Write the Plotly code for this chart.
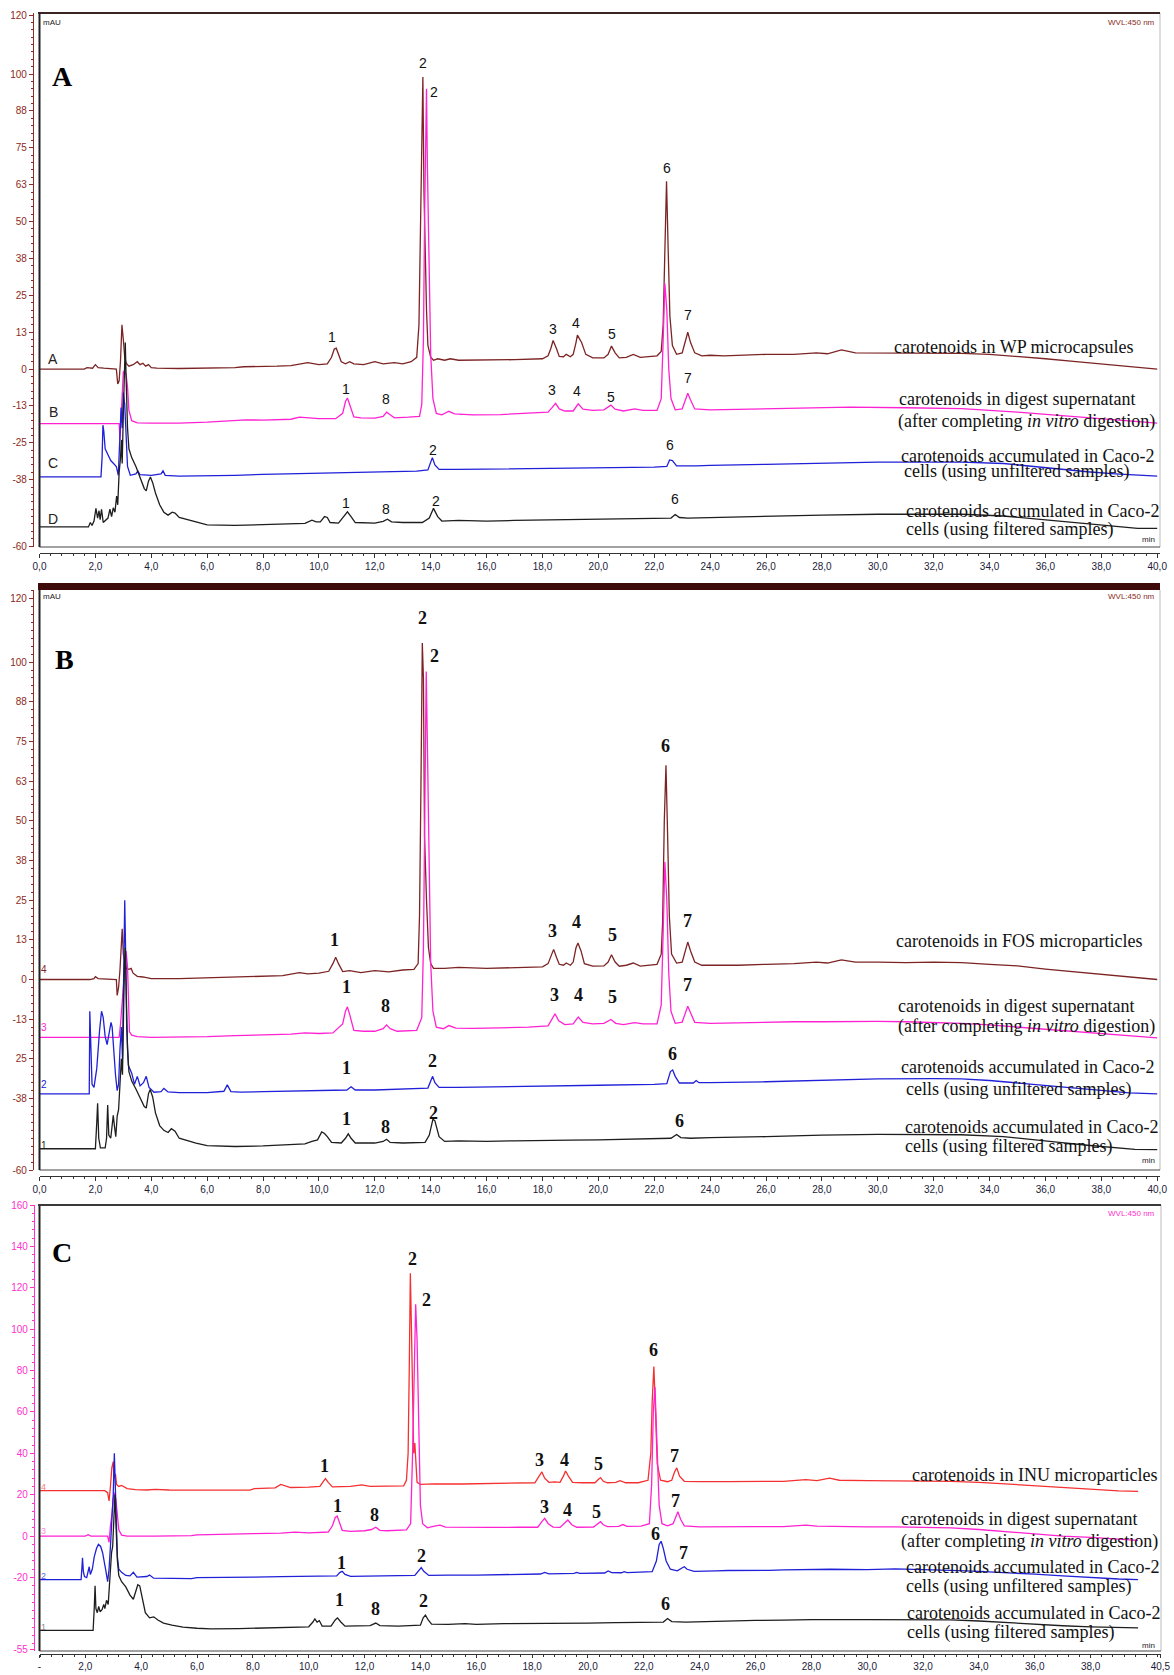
import plotly.graph_objects as go

W, H = 1174, 1675

# ---------------- data (retention time min, signal mAU) ----------------
# Panel A
A_wp = [(0,0),(1.6,0),(1.7,0.5),(1.9,0.3),(2.0,1.5),(2.1,0.5),(2.3,0.3),(2.6,0.2),(2.75,0),(2.8,-5),(2.85,-4),(2.9,3),(2.95,15),(3.0,10),(3.05,4),(3.1,2),(3.2,1),(3.35,1.5),(3.5,2.5),(3.6,1.5),(3.7,2),(3.8,1),(3.9,1.5),(4.0,0.5),(4.2,0.3),(5.0,0.2),(6.0,0.3),(7.0,0.5),(7.3,0.8),(8.0,0.8),(8.5,1.0),(9.0,1.2),(9.3,1.8),(9.6,2.2),(10.0,1.5),(10.3,1.8),(10.45,4),(10.55,6.8),(10.62,7.1),(10.7,5),(10.8,2.5),(10.95,1.8),(11.1,2.5),(11.25,1.8),(11.6,1.5),(12.0,2.5),(12.3,1.8),(12.7,2.2),(13.0,1.8),(13.3,2.5),(13.5,4),(13.58,15),(13.63,45),(13.68,85),(13.72,99),(13.76,60),(13.8,40),(13.85,20),(13.9,8),(14.0,4),(14.1,3),(14.25,3.5),(14.5,3.0),(14.7,3.5),(15,3),(16,3),(17,3.2),(18.0,3.5),(18.2,4.5),(18.3,7),(18.38,9.7),(18.5,7),(18.6,4.3),(18.75,4.2),(18.85,5),(19.0,4.2),(19.1,5),(19.2,9),(19.25,11.5),(19.4,9),(19.55,5),(19.8,3.8),(20.2,3.8),(20.35,5),(20.47,7.8),(20.6,5.5),(20.75,3.8),(21.0,4),(21.25,5.0),(21.5,4.0),(21.8,4.2),(22.1,4.5),(22.25,6),(22.32,15),(22.38,40),(22.44,63.7),(22.5,40),(22.56,18),(22.65,8),(22.8,5),(23.0,5.5),(23.1,9),(23.2,12.5),(23.3,9),(23.45,5.5),(23.7,4.5),(24.0,4.7),(24.5,4.5),(25,4.7),(26,5),(27,5),(27.8,5.5),(28.2,5.2),(28.7,6.5),(29.2,5.5),(30,5.5),(31,5.5),(32,5.5),(33,5.3),(34,5),(35,4.3),(36,3.5),(37,2.6),(38,1.7),(39,0.8),(40,0)]
A_dig = [(0,-18.5),(2.85,-18.5),(2.88,-24),(2.92,-15),(2.96,-5),(3.0,-1),(3.05,-0.5),(3.1,-2),(3.15,-6),(3.2,-14),(3.3,-17.5),(3.5,-18.2),(4.0,-18.3),(5.0,-18.3),(6.0,-18.0),(7.0,-17.6),(7.4,-17.2),(8.0,-17.3),(9.0,-17.0),(9.3,-16.3),(9.6,-16.5),(10.0,-16.8),(10.6,-16.8),(10.85,-15),(10.95,-11),(11.02,-9.8),(11.1,-12),(11.25,-16.2),(11.5,-16.5),(12.0,-16.6),(12.3,-16),(12.42,-14.6),(12.55,-15.5),(12.7,-16.5),(13.2,-16.3),(13.6,-16),(13.68,-12),(13.74,10),(13.78,50),(13.82,90),(13.85,95),(13.88,70),(13.94,30),(14.0,5),(14.08,-10),(14.2,-15),(14.4,-15.5),(14.65,-14.3),(14.85,-15.2),(15.5,-15.5),(16.5,-15.4),(17.5,-15),(18.2,-14.6),(18.35,-13),(18.47,-11.6),(18.6,-13.5),(18.8,-14.2),(19.1,-14.2),(19.28,-11.8),(19.45,-13.6),(19.8,-14),(20.2,-13.8),(20.45,-12.2),(20.6,-13.6),(20.9,-14.2),(21.3,-13.5),(21.6,-14),(22.1,-14),(22.25,-10),(22.32,10),(22.38,29),(22.45,20),(22.52,0),(22.6,-10),(22.75,-13.8),(23.0,-13.5),(23.12,-10),(23.2,-8.2),(23.3,-10.5),(23.45,-13.5),(24,-13.8),(25,-13.6),(26,-13.6),(27,-13.4),(28,-13.2),(29,-12.9),(31,-13.1),(33,-13.4),(35,-14.6),(36,-15.3),(37,-16),(38,-16.8),(39,-17.5),(40,-18.3)]
A_unf = [(0,-36.5),(2.2,-36.5),(2.24,-30),(2.27,-19),(2.3,-21),(2.35,-27),(2.45,-29),(2.55,-31),(2.65,-32),(2.75,-33),(2.82,-36),(2.87,-25),(2.92,-13),(2.96,-20),(3.0,-8),(3.05,-12),(3.1,-25),(3.15,-33),(3.25,-36),(3.45,-35.5),(3.52,-34.5),(3.6,-35.8),(4.0,-36),(4.35,-35.5),(4.42,-34.5),(4.5,-36),(5,-36.3),(6,-36.2),(7,-36),(8,-35.7),(10,-35.3),(12,-35),(13.5,-34.6),(13.9,-34.2),(14.0,-31.5),(14.06,-30),(14.15,-32.5),(14.3,-34),(15,-34),(17,-33.8),(18.5,-33.6),(20,-33.4),(22,-33.2),(22.45,-33),(22.55,-30.8),(22.65,-31),(22.8,-32.8),(23.5,-32.8),(24,-32.6),(26,-32.3),(28,-31.9),(30,-31.5),(32,-31.5),(33,-31.5),(34.5,-32),(35.5,-33),(36.5,-34),(37.5,-34.8),(38.5,-35.5),(39.5,-36),(40,-36.3)]
A_fil = [(0,-53.5),(1.75,-53.5),(1.82,-52),(1.88,-53),(1.95,-51.5),(2.02,-47.2),(2.08,-50.5),(2.13,-48),(2.17,-51),(2.22,-47.5),(2.28,-52),(2.35,-51.5),(2.45,-50.5),(2.52,-47.5),(2.58,-50),(2.64,-47),(2.7,-48.5),(2.76,-43),(2.8,-46),(2.85,-35),(2.9,-30),(2.93,-24),(2.96,-32),(3.0,-15),(3.04,5),(3.07,9),(3.1,-3),(3.15,-20),(3.2,-27),(3.3,-30),(3.45,-33),(3.6,-36.5),(3.75,-40.5),(3.82,-41.3),(3.9,-38),(3.97,-36.6),(4.05,-38.5),(4.15,-42),(4.3,-46),(4.45,-48.5),(4.6,-49.5),(4.75,-48.5),(4.85,-48.8),(5.0,-50.3),(5.2,-50.8),(5.4,-51.2),(5.7,-52.2),(6.0,-52.8),(7.0,-53),(8.0,-52.8),(9.0,-52.6),(9.5,-52.3),(9.75,-51.2),(9.9,-51.8),(10.05,-51.8),(10.2,-50),(10.3,-50.3),(10.4,-52),(10.7,-52.2),(10.9,-50),(11.02,-48.4),(11.15,-50),(11.3,-52),(12.0,-52.2),(12.3,-51.6),(12.45,-50.9),(12.6,-51.8),(13.0,-52),(13.7,-52),(13.95,-50.5),(14.1,-47.2),(14.25,-50),(14.4,-51.5),(15,-51.3),(16,-51.5),(17,-51.3),(18,-51.2),(19,-51),(20,-51),(21,-50.8),(22,-50.6),(22.6,-50.5),(22.75,-49.3),(22.9,-50.3),(23.2,-50.5),(24,-50.3),(26,-50),(28,-49.5),(30,-49.2),(32,-49.2),(33,-49.2),(34.5,-49.8),(35.5,-50.7),(36.5,-51.5),(37.5,-52.5),(38.5,-53.5),(39.3,-54),(40,-54)]

# Panel B
B_fos = [(0,0),(1.8,0),(1.95,0.3),(2.0,0.9),(2.1,0.3),(2.5,0.2),(2.75,0),(2.78,-5),(2.83,-2.5),(2.88,3),(2.93,10),(2.96,16),(3.0,8),(3.05,5),(3.1,3.5),(3.2,3.2),(3.28,3.5),(3.35,2),(3.5,1),(3.7,0.8),(4.0,0.3),(5,0.3),(6,0.5),(7,0.8),(8,1),(8.7,1.2),(9.3,2.2),(9.6,1.8),(10.0,2),(10.35,2.6),(10.5,5),(10.6,7),(10.7,5),(10.85,2.5),(11.1,2.8),(11.5,2.2),(12,2.8),(12.5,2.4),(13,3),(13.4,3.2),(13.55,5),(13.6,20),(13.65,60),(13.7,106),(13.74,95),(13.78,45),(13.85,25),(13.92,10),(14.0,5),(14.1,3.5),(14.5,3.5),(15,3.8),(16,3.5),(17,3.8),(18,4),(18.2,5),(18.3,7.5),(18.4,9.5),(18.5,7),(18.6,4.8),(18.75,4.5),(18.85,5.2),(19.0,4.5),(19.1,5.5),(19.2,10),(19.27,11.5),(19.38,9),(19.5,5),(19.8,4.2),(20.2,4.3),(20.35,5.5),(20.47,7.8),(20.6,5.5),(20.75,4.2),(21.0,4.5),(21.25,5.2),(21.5,4.2),(21.8,4.5),(22.1,4.8),(22.25,8),(22.3,18),(22.36,50),(22.42,67.5),(22.48,45),(22.54,20),(22.62,8),(22.8,5.2),(23.0,5.5),(23.1,8.5),(23.2,11.8),(23.3,9),(23.45,5.5),(23.7,4.5),(24,4.5),(25,4.5),(26,4.8),(27,5),(27.8,5.5),(28.2,5.2),(28.7,6.2),(29.2,5.5),(30,5.5),(31,5.3),(32,5.5),(33,5.3),(34,4.8),(35,4.3),(36,3.3),(37,2.5),(38,1.6),(39,0.8),(40,0)]
B_dig = [(0,-18.2),(2.85,-18.2),(2.9,-14),(2.95,-8),(3.0,-2),(3.05,5),(3.1,9),(3.15,4),(3.18,-10),(3.22,-16.5),(3.3,-17.5),(3.5,-18),(4,-18.2),(5,-18.2),(6,-18),(7,-17.7),(8,-17.5),(9,-17.2),(9.5,-16.8),(10,-17),(10.5,-16.8),(10.85,-14),(10.95,-10),(11.02,-8.6),(11.1,-11),(11.25,-16),(11.6,-16.3),(12.0,-16.3),(12.3,-15.5),(12.42,-14.3),(12.55,-15.5),(12.8,-16.3),(13.5,-16),(13.68,-12),(13.74,10),(13.79,60),(13.84,97),(13.88,75),(13.94,30),(14.0,5),(14.08,-10),(14.2,-15),(14.45,-15.5),(14.65,-14.5),(14.9,-15.3),(15.5,-15.4),(16.5,-15.2),(17.5,-15),(18.2,-14.6),(18.33,-12.5),(18.45,-10.8),(18.58,-13),(18.8,-14.2),(19.1,-14),(19.28,-11.8),(19.45,-13.5),(19.8,-14),(20.2,-13.8),(20.45,-12.6),(20.62,-13.8),(20.9,-14.2),(21.3,-13.6),(21.6,-14),(22.1,-14),(22.25,-8),(22.32,15),(22.38,37),(22.45,25),(22.52,2),(22.6,-10),(22.75,-13.8),(23.0,-13.4),(23.12,-10),(23.2,-8.4),(23.3,-10.5),(23.45,-13.5),(24,-13.8),(25,-13.6),(26,-13.6),(27,-13.3),(28,-13.3),(29,-13.2),(30,-13.2),(31,-13.3),(32,-13.5),(33,-13.8),(34,-14.3),(35,-15),(36,-15.8),(37,-16.4),(38,-17.2),(39,-17.8),(40,-18.4)]
B_unf = [(0,-36),(1.78,-36),(1.8,-10),(1.83,-20),(1.88,-33),(1.95,-34),(2.05,-28),(2.15,-16),(2.22,-10),(2.28,-12),(2.35,-18),(2.42,-20.5),(2.5,-17),(2.56,-13.5),(2.6,-15),(2.66,-23),(2.72,-30),(2.78,-35),(2.83,-33),(2.88,-22),(2.93,-15),(2.97,-25),(3.02,0),(3.05,25),(3.08,10),(3.12,-15),(3.18,-27),(3.3,-29.5),(3.4,-33),(3.5,-30.5),(3.6,-33.5),(3.72,-32.5),(3.82,-30.5),(3.92,-34),(4.1,-35.5),(4.35,-35.3),(4.45,-34.3),(4.6,-35.4),(5,-35.6),(6,-35.6),(6.6,-35.2),(6.72,-33.2),(6.85,-35.3),(7.2,-35.5),(8,-35.3),(10,-35),(11.0,-34.8),(11.15,-33.8),(11.3,-34.8),(12,-34.8),(13.5,-34.5),(13.9,-34.2),(14.0,-32),(14.07,-30.5),(14.15,-32.5),(14.3,-34),(15,-34),(17,-33.8),(18.5,-33.5),(20,-33.3),(22,-33),(22.45,-32.8),(22.58,-29),(22.66,-28.5),(22.75,-30.5),(22.9,-32.6),(23.4,-32.6),(23.5,-31.8),(23.6,-32.5),(24,-32.5),(26,-32.2),(28,-31.8),(30,-31.3),(32,-31.2),(33,-31.3),(34,-31.8),(35,-32.6),(36,-33.5),(37,-34.2),(38,-35),(39,-35.7),(40,-36)]
B_fil = [(0,-53.3),(2.0,-53.3),(2.05,-45),(2.08,-39),(2.12,-50),(2.18,-53),(2.35,-53),(2.4,-50),(2.44,-39.5),(2.48,-49),(2.55,-50),(2.6,-46),(2.64,-42.8),(2.68,-46),(2.73,-49.5),(2.78,-43),(2.83,-41),(2.88,-33),(2.93,-25),(2.97,-30),(3.0,-10),(3.04,5),(3.07,10),(3.1,-5),(3.15,-22),(3.2,-29),(3.3,-32),(3.45,-34.5),(3.6,-37),(3.75,-40),(3.82,-40.5),(3.9,-36),(3.96,-34.6),(4.05,-37),(4.15,-42),(4.3,-46),(4.45,-47.5),(4.6,-48.2),(4.72,-47),(4.85,-47.8),(5.0,-50),(5.3,-50.8),(5.6,-51.5),(6.0,-52.3),(7,-52.6),(8,-52.4),(9,-52),(9.5,-51.8),(9.75,-51),(9.95,-50.5),(10.1,-48),(10.2,-48.5),(10.3,-49.5),(10.45,-51.3),(10.8,-51.5),(10.95,-50),(11.05,-48.6),(11.15,-50),(11.3,-51.5),(12.0,-51.5),(12.3,-51),(12.42,-50.3),(12.55,-51.3),(13.0,-51.5),(13.8,-51.3),(13.95,-49),(14.08,-44),(14.15,-44.5),(14.3,-49.5),(14.5,-51),(15,-50.8),(16,-51),(17,-50.8),(18,-50.6),(19,-50.6),(20,-50.5),(21,-50.3),(22,-50.2),(22.6,-50),(22.8,-48.8),(22.95,-49.8),(23.3,-50),(24,-49.8),(26,-49.5),(28,-49),(30,-48.8),(32,-48.8),(33,-48.9),(34.5,-49.5),(35.5,-50.5),(36.5,-51.3),(37.5,-52.2),(38.5,-53),(39.2,-53.5),(40,-53.6)]

# Panel C
C_inu = [(0.36,22),(1.9,22),(2.05,22.3),(2.2,22.2),(2.7,22),(2.8,21),(2.85,17),(2.9,24),(2.95,33),(3.0,36),(3.03,28),(3.08,30),(3.12,25),(3.2,24),(3.3,24.5),(3.5,23),(3.8,22.5),(4.2,22.3),(4.5,22.6),(5,22.3),(6,22.2),(7,22.2),(7.9,22.2),(8.05,23),(8.8,23.3),(9.0,25),(9.15,24.3),(9.35,23.5),(10.0,23.7),(10.4,24),(10.5,26),(10.6,27.8),(10.7,26),(10.85,23.8),(11.5,24),(11.9,24.8),(12.2,24),(12.8,24.2),(13.4,24.3),(13.5,27),(13.56,40),(13.6,80),(13.64,127),(13.68,100),(13.72,60),(13.76,40),(13.8,45),(13.84,35),(13.88,26),(14.0,25),(14.5,25.3),(15.5,25.2),(16.5,25.5),(17.5,25.5),(18.1,25.8),(18.25,29),(18.35,31),(18.45,28),(18.6,26),(18.8,26.2),(19.0,26),(19.12,29),(19.2,31.5),(19.3,29),(19.45,26),(19.8,25.8),(20.25,25.8),(20.38,27.5),(20.45,28.3),(20.55,26.5),(20.7,25.8),(21.0,26),(21.15,26.8),(21.35,25.8),(21.8,25.8),(22.15,27),(22.25,40),(22.3,65),(22.36,82),(22.42,60),(22.48,35),(22.6,27),(22.85,26.3),(23.0,27),(23.1,31),(23.18,33),(23.28,29),(23.45,26.5),(24,26.3),(25,26.3),(26,26.5),(27,26.5),(27.8,27.3),(28.2,26.8),(28.65,28),(29,27),(30,26.8),(31,26.8),(32,26.8),(33,26.5),(34,26),(35,25.2),(36,24.3),(37,23.3),(38,22.5),(39,21.9),(39.7,21.6)]
C_dig = [(0.36,0),(2.0,0),(2.1,0.7),(2.2,0),(2.8,0),(2.85,-3),(2.9,5),(2.95,10),(3.0,18),(3.05,21),(3.1,17),(3.15,10),(3.2,3),(3.3,0.5),(3.5,0),(4.5,0),(5.8,0.2),(6.0,0.6),(7.0,0.8),(7.8,0.8),(8.0,1.2),(9.0,1.5),(9.5,1.9),(10.0,1.6),(10.7,2),(10.85,5),(10.95,9),(11.02,9.7),(11.1,6.5),(11.2,2.8),(11.5,2.3),(12.0,2.6),(12.25,3.2),(12.4,4.3),(12.55,2.8),(12.8,2.6),(13.5,3),(13.65,6),(13.72,40),(13.78,90),(13.83,112),(13.88,95),(13.93,55),(14.0,15),(14.08,6),(14.25,4),(14.5,4.8),(14.7,5.3),(14.9,4.4),(15.5,4.2),(16.5,4.2),(17.5,4.3),(18.2,4.3),(18.35,7),(18.45,8.6),(18.58,6),(18.75,4.4),(19.0,4.2),(19.15,6),(19.28,7.8),(19.42,5.5),(19.6,4.3),(20.2,4.4),(20.35,6),(20.45,7),(20.55,5.5),(20.7,4.6),(21.1,4.7),(21.25,5.6),(21.4,4.7),(21.9,4.8),(22.2,6),(22.28,25),(22.34,60),(22.4,72),(22.47,45),(22.55,15),(22.65,6),(22.85,5),(23.05,6),(23.15,10),(23.22,11.8),(23.32,8),(23.45,5),(24,4.5),(25,4.4),(26,4.6),(27,4.6),(27.8,5.3),(28.2,4.8),(29,4.6),(30,4.5),(31,4.5),(32,4.4),(33,4),(34,3.2),(35,2.2),(36,1),(37,0),(38,-0.6),(39,-1.4),(39.7,-2)]
C_unf = [(0.36,-21),(1.85,-21),(1.88,-15),(1.9,-10.5),(1.93,-17),(1.97,-19.5),(2.05,-20),(2.1,-17),(2.14,-14.8),(2.18,-18.5),(2.25,-16),(2.32,-10),(2.4,-6),(2.47,-4),(2.55,-5),(2.62,-8),(2.68,-12),(2.74,-17),(2.8,-22),(2.85,-16),(2.9,-5),(2.95,5),(3.0,20),(3.04,40),(3.07,25),(3.1,5),(3.15,-10),(3.2,-16),(3.3,-17.5),(3.45,-19),(3.6,-19.2),(3.72,-17.5),(3.85,-19.8),(4.2,-19.5),(4.3,-18.8),(4.45,-20.3),(5,-20.5),(5.8,-20.5),(6.0,-20),(7,-20),(8,-19.8),(9,-19.6),(10,-19.5),(11.0,-19.2),(11.12,-17.5),(11.2,-17),(11.3,-18.5),(11.5,-19.4),(13.8,-19),(13.95,-16.5),(14.03,-15.2),(14.12,-17),(14.3,-19),(15,-18.8),(16,-18.8),(18.3,-18.3),(18.45,-17.5),(18.6,-18.2),(19.5,-18),(19.6,-17.5),(19.7,-18),(20.6,-17.8),(20.72,-16.8),(20.85,-17.6),(21.2,-17.7),(21.3,-17.2),(21.4,-17.6),(22.3,-17.2),(22.45,-12),(22.55,-4),(22.62,-2.5),(22.7,-6),(22.8,-12),(22.95,-16),(23.2,-16.8),(23.35,-15.5),(23.45,-14.8),(23.55,-16),(23.8,-17),(24.6,-16.8),(25,-16.6),(26.5,-16.5),(27,-16.3),(28.7,-16),(30,-16.2),(31,-15.8),(32,-16),(33,-16.5),(34,-17),(35,-17.6),(36,-18.4),(37,-19.2),(38,-20),(39,-20.7),(39.7,-21)]
C_fil = [(0.36,-45.5),(2.28,-45.5),(2.32,-35),(2.35,-24),(2.38,-35),(2.43,-37),(2.48,-34),(2.53,-36.5),(2.6,-35.5),(2.66,-33),(2.7,-35),(2.76,-31),(2.82,-33),(2.88,-20),(2.94,-8),(2.98,-5),(3.02,10),(3.06,20),(3.1,5),(3.15,-12),(3.2,-19),(3.3,-22),(3.45,-24.5),(3.6,-28.5),(3.72,-30.5),(3.8,-27),(3.88,-23.5),(3.95,-24),(4.05,-31),(4.15,-37),(4.3,-39.5),(4.45,-39),(4.6,-40.5),(4.8,-42),(5.1,-43),(5.5,-44),(6.0,-44.5),(6.5,-44.8),(7.5,-44.7),(8.5,-44.3),(9.5,-44),(10.0,-43.8),(10.15,-41.5),(10.22,-40),(10.3,-41.5),(10.38,-40.8),(10.48,-43.5),(10.8,-43.5),(10.95,-40.5),(11.03,-39.5),(11.15,-41.5),(11.3,-43.5),(12.2,-43.2),(12.4,-42),(12.55,-43.2),(12.9,-43.2),(13.2,-43.5),(14.0,-43),(14.1,-39.5),(14.18,-38.2),(14.28,-40.5),(14.4,-42.5),(15,-42.6),(15.6,-42.3),(16,-42.6),(17,-42.3),(18,-42.3),(19,-42.2),(20,-42),(21,-41.8),(22,-41.7),(22.7,-41.5),(22.85,-39.8),(23.0,-41.3),(23.5,-41.5),(24,-41.3),(25.5,-41),(26,-40.7),(27,-40.6),(28,-40.3),(30,-40.3),(32,-40.3),(33,-40.5),(34,-41),(35,-41.8),(36,-42.6),(37,-43.3),(38,-43.8),(39,-44.2),(39.7,-44.3)]

# tick labels
x_ticks_AB = [i * 2 for i in range(21)]
x_text_AB = [f"{v},0" for v in x_ticks_AB]
x_ticks_C = [0.36] + [i * 2 for i in range(1, 20)] + [40.5]
x_text_C = ["-"] + [f"{i*2},0" for i in range(1, 20)] + ["40,5"]
y_ticks_AB = [120, 100, 87.5, 75, 62.5, 50, 37.5, 25, 12.5, 0, -12.5, -25, -37.5, -60]
y_text_A = ["120", "100", "88", "75", "63", "50", "38", "25", "13", "0", "-13", "-25", "-38", "-60"]
y_text_B = ["120", "100", "88", "75", "63", "50", "38", "25", "13", "0", "-13", "25", "-38", "-60"]
y_ticks_C = [160, 140, 120, 100, 80, 60, 40, 20, 0, -20, -55]
y_text_C = ["160", "140", "120", "100", "80", "60", "40", "20", "0", "-20", "-55"]

# peak labels: (time, mAU, text)
pk_A = [(10.47, 10.8, "1"), (13.73, 103.7, "2"), (14.12, 94, "2"), (18.38, 13.6, "3"), (19.2, 15.6, "4"),
        (20.49, 11.9, "5"), (22.46, 68.1, "6"), (23.21, 18.3, "7"),
        (10.97, -6.8, "1"), (12.4, -10.2, "8"), (18.34, -7.1, "3"), (19.24, -7.5, "4"), (20.45, -9.5, "5"), (23.21, -3.1, "7"),
        (14.1, -27.5, "2"), (22.56, -25.8, "6"),
        (10.97, -45.5, "1"), (12.4, -47.5, "8"), (14.19, -44.8, "2"), (22.75, -44.1, "6")]
pk_B = [(10.55, 12.3, "1"), (13.69, 114, "2"), (18.35, 15.4, "3"), (19.23, 18, "4"), (20.49, 13.9, "5"), (22.42, 73.7, "6"), (23.2, 18.3, "7"),
        (14.15, 102, "2"), (11.0, -2.2, "1"), (12.4, -8.2, "8"), (18.42, -5, "3"), (19.3, -5, "4"), (20.49, -5.4, "5"), (23.2, -1.6, "7"),
        (11.0, -28, "1"), (14.08, -25.8, "2"), (22.67, -23.6, "6"),
        (11.0, -44, "1"), (12.4, -46.6, "8"), (14.1, -42.2, "2"), (22.9, -44.7, "6")]
pk_C = [(10.57, 34, "1"), (13.72, 134, "2"), (18.28, 36.9, "3"), (19.17, 36.9, "4"), (20.39, 35, "5"), (22.35, 90, "6"), (23.1, 38.8, "7"),
        (14.22, 114, "2"), (11.04, 14.4, "1"), (12.36, 10, "8"), (18.43, 13.9, "3"), (19.25, 12.5, "4"), (20.29, 11.5, "5"), (23.14, 17.2, "7"),
        (11.18, -12.9, "1"), (14.04, -9.6, "2"), (22.42, 1, "6"), (23.42, -8.1, "7"),
        (11.11, -30.7, "1"), (12.4, -35, "8"), (14.11, -31.1, "2"), (22.78, -32.6, "6")]

desc_A = ["carotenoids in WP microcapsules", "carotenoids in digest supernatant",
          "(after completing <i>in vitro</i> digestion)", "carotenoids accumulated in Caco-2",
          "cells (using unfiltered samples)", "carotenoids accumulated in Caco-2", "cells (using filtered samples)"]
desc_B = ["carotenoids in FOS microparticles"] + desc_A[1:]
desc_C = ["carotenoids in INU microparticles"] + desc_A[1:]

# ---------------- figure ----------------
BROWN = "#7C2424"
MAG = "#FF22D2"
BLUE = "#2020D8"
BLACK = "#1E1E1E"
RED = "#F53030"


def fx(px):
    return px / W


def fy(py):
    return 1 - py / H


fig = go.Figure()

series = [
    ("x", "y", A_wp, BROWN), ("x", "y", A_dig, MAG), ("x", "y", A_unf, BLUE), ("x", "y", A_fil, BLACK),
    ("x2", "y2", B_fos, BROWN), ("x2", "y2", B_dig, MAG), ("x2", "y2", B_unf, BLUE), ("x2", "y2", B_fil, BLACK),
    ("x3", "y3", C_inu, RED), ("x3", "y3", C_dig, MAG), ("x3", "y3", C_unf, BLUE), ("x3", "y3", C_fil, BLACK),
]
for xa, ya, pts, col in series:
    fig.add_trace(go.Scatter(x=[p[0] for p in pts], y=[p[1] for p in pts], mode="lines",
                             line=dict(color=col, width=1.3), xaxis=xa, yaxis=ya,
                             hoverinfo="skip", showlegend=False))

SANS = "Liberation Sans"
SERIF = "Liberation Serif"


def xax(dom, rng, pos, tv, tt, tl=4):
    return dict(domain=dom, range=rng, anchor="free", position=pos, showgrid=False, zeroline=False,
                showline=True, linecolor="#333333", linewidth=1, ticks="outside", ticklen=tl,
                tickcolor="#333333", tickvals=tv, ticktext=tt,
                tickfont=dict(family=SANS, size=10, color="#1c1c3a"),
                minor=dict(tickmode="linear", tick0=0, dtick=0.4, ticks="outside", ticklen=2, tickcolor="#333333"),
                automargin=False)


def yax(dom, rng, pos, tv, tt, col, mdt):
    return dict(domain=dom, range=rng, anchor="free", position=pos, showgrid=False, zeroline=False,
                showline=True, linecolor=col, linewidth=1.2, ticks="outside", ticklen=4, tickcolor=col,
                tickvals=tv, ticktext=tt, tickfont=dict(family=SANS, size=10, color=col),
                minor=dict(tickmode="linear", tick0=0, dtick=mdt, ticks="outside", ticklen=2, tickcolor=col),
                automargin=False)


YCOL_AB = "#8E2A22"
YCOL_C = "#FF30CC"

fig.update_layout(
    width=W, height=H, margin=dict(l=0, r=0, t=0, b=0),
    paper_bgcolor="white", plot_bgcolor="white", showlegend=False,
    xaxis=xax([fx(39.5), fx(1160)], [0, 40.1], fy(553), x_ticks_AB, x_text_AB),
    yaxis=yax([fy(547), fy(13)], [-60.3, 120.7], fx(33), y_ticks_AB, y_text_A, YCOL_AB, 2.5),
    xaxis2=xax([fx(39.5), fx(1160)], [0, 40.1], fy(1176), x_ticks_AB, x_text_AB),
    yaxis2=yax([fy(1170), fy(590)], [-60, 122.7], fx(33), y_ticks_AB, y_text_B, YCOL_AB, 2.5),
    xaxis3=xax([fx(39.5), fx(1161)], [0.36, 40.52], fy(1654), x_ticks_C, x_text_C, tl=3),
    yaxis3=yax([fy(1651), fy(1205)], [-55.5, 160], fx(34), y_ticks_C, y_text_C, YCOL_C, 4),
)

shapes = []
# plot frames
for xd, yd in [("x domain", "y domain"), ("x2 domain", "y2 domain"), ("x3 domain", "y3 domain")]:
    shapes.append(dict(type="line", xref=xd, yref=yd, x0=1, x1=1, y0=0, y1=1, line=dict(color="#BBBBBB", width=1)))
    shapes.append(dict(type="line", xref=xd, yref=yd, x0=0, x1=1, y0=0, y1=0, line=dict(color="#444444", width=1)))
    shapes.append(dict(type="line", xref=xd, yref=yd, x0=0, x1=0, y0=0, y1=1, line=dict(color="#222222", width=2)))
# top borders / header bands
shapes.append(dict(type="line", xref="paper", yref="paper", x0=fx(38), x1=fx(1160), y0=fy(13), y1=fy(13),
                   line=dict(color="#3A2424", width=2)))
shapes.append(dict(type="rect", xref="paper", yref="paper", x0=fx(38), x1=fx(1160), y0=fy(590), y1=fy(583),
                   fillcolor="#3E0A0A", line=dict(width=0)))
shapes.append(dict(type="line", xref="paper", yref="paper", x0=fx(38), x1=fx(1161), y0=fy(1205), y1=fy(1205),
                   line=dict(color="#3A3A3A", width=2)))
fig.update_layout(shapes=shapes)

ann = []


def txt(x, y, t, size, family=SANS, color="#111111", xanchor="center", yanchor="middle", xref="paper", yref="paper", bold=False):
    if bold:
        t = "<b>" + t + "</b>"
    ann.append(dict(x=x, y=y, text=t, xref=xref, yref=yref, showarrow=False, xanchor=xanchor, yanchor=yanchor,
                    font=dict(family=family, size=size, color=color), borderpad=0))


# small header texts
for ytop in (23, 596):
    txt(fx(42), fy(ytop), "mAU", 8, color="#222222", xanchor="left")
    txt(fx(1156), fy(ytop), "WVL:450 nm", 8, color="#8A2A1A", xanchor="right")
txt(fx(1156), fy(1213), "WVL:450 nm", 8, color="#FF30CC", xanchor="right")

# panel letters
txt(fx(62), fy(77), "A", 28, family=SERIF, color="#000000", bold=True)
txt(fx(64), fy(659), "B", 28, family=SERIF, color="#000000", bold=True)
txt(fx(62), fy(1252), "C", 28, family=SERIF, color="#000000", bold=True)

# curve letters in panel A
for yy, lt in [(359, "A"), (412, "B"), (463, "C"), (519, "D")]:
    txt(fx(53), fy(yy), lt, 14, color="#222222")
# curve numbers in panel B
for yy, lt, c in [(969, "4", BROWN), (1027, "3", MAG), (1084, "2", BLUE), (1145, "1", BLACK)]:
    txt(fx(40), fy(yy), lt, 10, color=c, xanchor="left")
# curve numbers in panel C
for yy, lt, c in [(1487, "4", "#F08080"), (1531, "3", "#FF88DD"), (1576, "2", "#6060E0"), (1627, "1", "#888888")]:
    txt(fx(40), fy(yy), lt, 9, color=c, xanchor="left")

# descriptions
pos_A = [(893, 347), (898, 399), (897, 421), (900, 456), (903, 472), (905, 511), (905, 530)]
pos_B = [(895, 941), (897, 1006), (897, 1026), (900, 1067), (905, 1089), (904, 1127), (904, 1146)]
pos_C = [(911, 1475), (900, 1519), (900, 1541), (905, 1567), (905, 1586), (906, 1613), (906, 1632)]
for texts, poss in [(desc_A, pos_A), (desc_B, pos_B), (desc_C, pos_C)]:
    for t, (px, py) in zip(texts, poss):
        txt(fx(px), fy(py), t, 18, family=SERIF, color="#111111", xanchor="left")
for py in (539, 1160, 1645):
    txt(fx(1156), fy(py), "min", 8, color="#222222", xanchor="right")

# peak labels
for t, v, s in pk_A:
    txt(t, v, s, 14, family=SANS, color="#111111", xref="x", yref="y")
for t, v, s in pk_B:
    txt(t, v, s, 18, family=SERIF, color="#111111", xref="x2", yref="y2", bold=True)
for t, v, s in pk_C:
    txt(t, v, s, 18, family=SERIF, color="#111111", xref="x3", yref="y3", bold=True)

fig.update_layout(annotations=ann)
fig.write_html("out.html", config={"displayModeBar": False},
               post_script="document.body.style.margin='0px';document.body.style.overflow='hidden';")
